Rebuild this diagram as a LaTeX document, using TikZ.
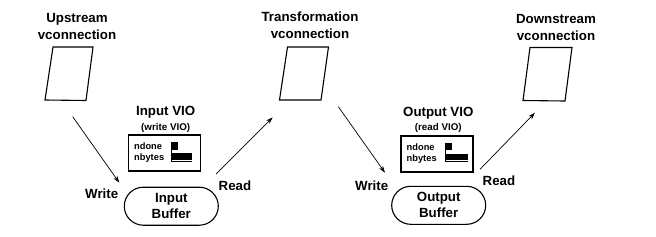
\documentclass[tikz,border=0pt]{standalone}
\usepackage{fontspec}
\setmainfont{Liberation Sans}
\usetikzlibrary{arrows.meta}
\begin{document}
\begin{tikzpicture}[x=1pt,y=-1pt,
  lbl/.style={font=\bfseries\fontsize{13.3}{17}\selectfont, align=center, inner sep=0pt},
  sublbl/.style={font=\bfseries\fontsize{9.8}{11}\selectfont, inner sep=0pt},
  small/.style={font=\bfseries\fontsize{9.3}{11}\selectfont, inner sep=0pt, anchor=west},
  vcbox/.style={draw, line width=1.1pt, line join=miter},
  viobox/.style={draw, line width=1.3pt, minimum width=72pt, minimum height=36pt, inner sep=0pt},
  buf/.style={draw, line width=1.1pt, rounded corners=19pt, minimum width=94pt, minimum height=38pt, inner sep=0pt, align=center, font=\bfseries\fontsize{13.3}{16}\selectfont},
  arr/.style={-{Stealth[length=7pt,width=4.5pt]}, line width=0.7pt}]
\useasboundingbox[fill=white] (0,0) rectangle (656,236);

% headings
\node[lbl] (uph) at (77,26.5) {Upstream\\vconnection};
\node[lbl] (trh) at (310,25.5) {Transformation\\vconnection};
\node[lbl] (dnh) at (556,27) {Downstream\\vconnection};

% parallelograms
\draw[vcbox] (53,47) -- (93,47) -- (86,100.5) -- (45,100) -- cycle;
\draw[vcbox] (287.5,47) -- (328.5,47) -- (321,100) -- (279.5,100) -- cycle;
\draw[vcbox] (530,47.5) -- (572,47.5) -- (565,101) -- (523,100.5) -- cycle;

% VIO labels
\node[lbl] (ivio) at (165.7,112) {Input VIO};
\node[sublbl] (ivios) at (165.7,127.5) {(write VIO)};
\node[lbl] (ovio) at (438.3,113) {Output VIO};
\node[sublbl] (ovios) at (438.3,127.5) {(read VIO)};

% VIO boxes
\node[viobox] (ibox) at (164.5,153) {};
\node[viobox] (obox) at (437,154) {};
\node[small] (ind) at (134,146.5) {ndone};
\node[small] (inb) at (134,158.5) {nbytes};
\node[small] (ond) at (406.5,147.5) {ndone};
\node[small] (onb) at (406.5,159.5) {nbytes};

% flags
\fill (171,142) rectangle (178,150);
\fill (171,153) rectangle (192,160);
\draw[line width=1pt] (171.5,142) -- (171.5,162);
\draw[line width=0.6pt] (171,161.7) -- (192,161.7);
\fill (445,142.5) rectangle (452,150);
\fill (445,153.5) rectangle (467.5,160);
\draw[line width=1pt] (445.5,142.5) -- (445.5,162);
\draw[line width=0.6pt] (445,161.7) -- (467.5,161.7);

% buffers
\node[buf] (ibuf) at (171.3,206.2) {Input\\Buffer};
\node[buf] (obuf) at (438.7,205.3) {Output\\Buffer};

% connector labels
\node[lbl] (w1) at (101.7,193.3) {Write};
\node[lbl] (r1) at (235,185.7) {Read};
\node[lbl] (w2) at (371.7,185.7) {Write};
\node[lbl] (r2) at (499,180.3) {Read};

% arrows
\coordinate (a1s) at (72.7,116.7);
\coordinate (a1e) at (119.3,182.7);
\coordinate (a2s) at (216,174);
\coordinate (a2e) at (272.7,117.3);
\coordinate (a3s) at (338.3,106.7);
\coordinate (a3e) at (385,172.7);
\coordinate (a4s) at (480,169.3);
\coordinate (a4e) at (535,112.7);
\draw[arr] (a1s) -- (a1e);
\draw[arr] (a2s) -- (a2e);
\draw[arr] (a3s) -- (a3e);
\draw[arr] (a4s) -- (a4e);
\end{tikzpicture}
\end{document}
